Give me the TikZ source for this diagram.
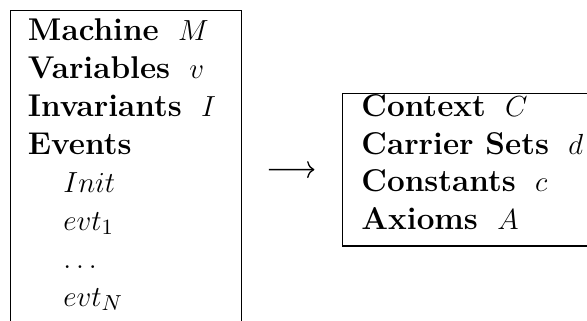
\documentclass[tikz,border=0pt]{standalone}
\usetikzlibrary{arrows.meta}
\begin{document}
\begin{tikzpicture}[x=0.4132pt, y=-0.4132pt,
  frame/.style={draw, line width=0.5pt, inner sep=0pt, anchor=north west},
  entry/.style={anchor=base west, inner sep=0pt, font=\fontsize{13}{15.5}\selectfont},
  link/.style={-{To[length=3pt,width=7pt]}, line width=0.55pt,
    shorten <=11pt, shorten >=11.2pt}]
\useasboundingbox (0,0) rectangle (587,320);
\clip (0,0) rectangle (587,320);

% machine box (runs past the lower edge) and context box (runs past the right edge)
\node[frame, minimum width=95.65pt, minimum height=131.4pt] (machine) at (9.5,10) {};
\node[frame, minimum width=148pt, minimum height=63.2pt] (context) at (341.5,92.5) {};

% machine entries
\node[entry] (mname) at (27.5,40)  {\textbf{Machine}\hspace{8pt}$M$};
\node[entry] (mvars) at (27.5,78)  {\textbf{Variables}\hspace{8pt}$v$};
\node[entry] (minv)  at (27.5,116) {\textbf{Invariants}\hspace{8pt}$I$};
\node[entry] (mevts) at (27.5,154) {\textbf{Events}};
\node[entry] (einit) at (63,192) {$Init$};
\node[entry] (eone)  at (63,230) {$evt_1$};
\node[entry] (edots) at (63,268) {$\ldots$};
\node[entry] (elast) at (63,306) {$evt_N$};

% context entries
\node[entry] (cname)   at (361,116.5) {\textbf{Context}\hspace{8pt}$C$};
\node[entry] (csets)   at (361,154)   {\textbf{Carrier Sets}\hspace{8pt}$d$};
\node[entry] (cconsts) at (361,191.5) {\textbf{Constants}\hspace{8pt}$c$};
\node[entry] (caxioms) at (361,229)   {\textbf{Axioms}\hspace{8pt}$A$};

% machine sees context
\draw[link] (machine.east) -- (context.west);
\end{tikzpicture}
\end{document}
